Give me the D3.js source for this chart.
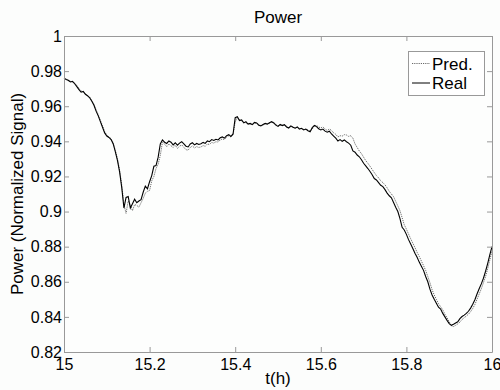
<!DOCTYPE html>
<html>
<head>
<meta charset="utf-8">
<script src="https://cdn.jsdelivr.net/npm/d3@7"></script>
<style>
  body { margin: 0; background: #fcfdfc; }
  svg { display: block; }
</style>
</head>
<body>
<div id="container"></div>
<script>
/* DATA */
// sampled every 0.005 h from 15 h to 16 h
const startHour = 15, stepHour = 0.005;

const real = [
  0.9760, 0.9752, 0.9748, 0.9738, 0.9742, 0.9728, 0.9712, 0.9695, 0.9680, 0.9684,
  0.9668, 0.9660, 0.9648, 0.9628, 0.9605, 0.9572, 0.9545, 0.9512, 0.9480, 0.9448,
  0.9430, 0.9422, 0.9410, 0.9385, 0.9340, 0.9290, 0.9225, 0.9135, 0.9020, 0.9080,
  0.9085, 0.9020, 0.9045, 0.9070, 0.9050, 0.9060, 0.9068, 0.9110, 0.9145, 0.9130,
  0.9170, 0.9205, 0.9258, 0.9262, 0.9310, 0.9385, 0.9408, 0.9395, 0.9388, 0.9402,
  0.9395, 0.9380, 0.9392, 0.9378, 0.9390, 0.9398, 0.9385, 0.9372, 0.9368, 0.9385,
  0.9392, 0.9380, 0.9388, 0.9382, 0.9386, 0.9394, 0.9388, 0.9402, 0.9398, 0.9410,
  0.9405, 0.9412, 0.9408, 0.9420, 0.9425, 0.9418, 0.9432, 0.9438, 0.9428, 0.9442,
  0.9535, 0.9540, 0.9518, 0.9522, 0.9505, 0.9512, 0.9498, 0.9502, 0.9495, 0.9508,
  0.9505, 0.9492, 0.9488, 0.9496, 0.9502, 0.9498, 0.9506, 0.9512, 0.9505, 0.9492,
  0.9485, 0.9496, 0.9490, 0.9495, 0.9482, 0.9476, 0.9488, 0.9480, 0.9475, 0.9482,
  0.9470, 0.9474, 0.9465, 0.9470, 0.9460, 0.9455, 0.9478, 0.9490, 0.9484, 0.9472,
  0.9465, 0.9470, 0.9458, 0.9452, 0.9458, 0.9442, 0.9430, 0.9418, 0.9402, 0.9410,
  0.9400, 0.9408, 0.9398, 0.9390, 0.9378, 0.9345, 0.9338, 0.9322, 0.9312, 0.9295,
  0.9275, 0.9260, 0.9245, 0.9228, 0.9210, 0.9188, 0.9180, 0.9165, 0.9150, 0.9142,
  0.9125, 0.9105, 0.9090, 0.9078, 0.9052, 0.9025, 0.9000, 0.8960, 0.8910, 0.8895,
  0.8870, 0.8840, 0.8815, 0.8790, 0.8762, 0.8740, 0.8712, 0.8688, 0.8665, 0.8630,
  0.8600, 0.8558, 0.8525, 0.8500, 0.8478, 0.8455, 0.8445, 0.8420, 0.8400, 0.8380,
  0.8362, 0.8352, 0.8358, 0.8365, 0.8372, 0.8390, 0.8402, 0.8410, 0.8420, 0.8432,
  0.8450, 0.8472, 0.8498, 0.8530, 0.8560, 0.8588, 0.8620, 0.8660, 0.8705, 0.8755,
  0.8800
];

const pred = [
  0.9765, 0.9755, 0.9745, 0.9742, 0.9736, 0.9732, 0.9718, 0.9700, 0.9688, 0.9680,
  0.9672, 0.9658, 0.9652, 0.9632, 0.9612, 0.9580, 0.9552, 0.9520, 0.9488, 0.9455,
  0.9435, 0.9425, 0.9415, 0.9392, 0.9348, 0.9300, 0.9235, 0.9150, 0.9040, 0.8990,
  0.9060, 0.9040, 0.9005, 0.9040, 0.9035, 0.9025, 0.9050, 0.9075, 0.9105, 0.9115,
  0.9120, 0.9175, 0.9200, 0.9245, 0.9270, 0.9320, 0.9395, 0.9385, 0.9370, 0.9385,
  0.9375, 0.9365, 0.9378, 0.9360, 0.9372, 0.9380, 0.9366, 0.9352, 0.9350, 0.9365,
  0.9374, 0.9362, 0.9370, 0.9365, 0.9368, 0.9376, 0.9372, 0.9385, 0.9382, 0.9394,
  0.9390, 0.9398, 0.9396, 0.9408, 0.9414, 0.9410, 0.9424, 0.9432, 0.9425, 0.9438,
  0.9510, 0.9536, 0.9522, 0.9516, 0.9508, 0.9506, 0.9500, 0.9498, 0.9498, 0.9502,
  0.9506, 0.9496, 0.9490, 0.9492, 0.9500, 0.9500, 0.9502, 0.9510, 0.9508, 0.9496,
  0.9488, 0.9492, 0.9492, 0.9492, 0.9486, 0.9478, 0.9484, 0.9482, 0.9476, 0.9480,
  0.9474, 0.9472, 0.9468, 0.9468, 0.9464, 0.9458, 0.9470, 0.9488, 0.9490, 0.9482,
  0.9476, 0.9482, 0.9470, 0.9462, 0.9470, 0.9462, 0.9448, 0.9440, 0.9425, 0.9432,
  0.9430, 0.9438, 0.9436, 0.9428, 0.9432, 0.9418, 0.9385, 0.9365, 0.9345, 0.9330,
  0.9310, 0.9290, 0.9275, 0.9258, 0.9240, 0.9222, 0.9205, 0.9192, 0.9175, 0.9165,
  0.9152, 0.9135, 0.9115, 0.9100, 0.9085, 0.9058, 0.9032, 0.9005, 0.8965, 0.8925,
  0.8900, 0.8872, 0.8845, 0.8820, 0.8795, 0.8768, 0.8745, 0.8718, 0.8692, 0.8665,
  0.8630, 0.8595, 0.8555, 0.8525, 0.8500, 0.8475, 0.8458, 0.8440, 0.8415, 0.8395,
  0.8372, 0.8350, 0.8345, 0.8352, 0.8360, 0.8370, 0.8385, 0.8395, 0.8405, 0.8415,
  0.8430, 0.8448, 0.8470, 0.8500, 0.8530, 0.8560, 0.8595, 0.8630, 0.8675, 0.8725,
  0.8775
];

const xTicks = [15, 15.2, 15.4, 15.6, 15.8, 16];
const yTicks = [0.82, 0.84, 0.86, 0.88, 0.9, 0.92, 0.94, 0.96, 0.98, 1];
const legendItems = ["Pred.", "Real"];

/* LAYOUT */
const width = 500, height = 390;
const margin = {top: 36, right: 8, bottom: 38, left: 64};
const axisColor = "#999";
const font = "'Liberation Sans', Arial, sans-serif";

const svg = d3.select("#container")
  .append("svg")
  .attr("width", width)
  .attr("height", height)
  .attr("font-family", font)
  .attr("font-size", 17);

const x = d3.scaleLinear()
  .domain([15, 16])
  .range([margin.left, width - margin.right]);

const y = d3.scaleLinear()
  .domain([0.82, 1])
  .range([height - margin.bottom, margin.top]);

const hourAt = i => startHour + i * stepHour;

// plot background
svg.append("rect")
  .attr("x", x(15)).attr("y", y(1))
  .attr("width", x(16) - x(15)).attr("height", y(0.82) - y(1))
  .attr("fill", "#fdfefd");

// lines
const line = d3.line()
  .x((d, i) => x(hourAt(i)))
  .y(d => y(d));

svg.append("path")
  .datum(pred)
  .attr("fill", "none")
  .attr("stroke", "#6a6a6a")
  .attr("stroke-width", 1)
  .attr("stroke-dasharray", "1.2 1")
  .attr("d", line);

svg.append("path")
  .datum(real)
  .attr("fill", "none")
  .attr("stroke", "#000")
  .attr("stroke-width", 1.1)
  .attr("d", line);

// axes (ticks inside, box on all sides)
const styleAxis = g => {
  g.selectAll(".domain").attr("stroke", axisColor);
  g.selectAll(".tick line").attr("stroke", axisColor);
  g.selectAll(".tick text").attr("fill", "#000").attr("font-size", 16).attr("font-family", font);
};

svg.append("g")
  .attr("transform", `translate(0,${y(0.82)})`)
  .call(d3.axisBottom(x).tickValues(xTicks).tickFormat(d3.format("")).tickSizeInner(-5).tickSizeOuter(0).tickPadding(7))
  .call(styleAxis);

svg.append("g")
  .attr("transform", `translate(0,${y(1)})`)
  .call(d3.axisTop(x).tickValues(xTicks).tickFormat("").tickSizeInner(-5).tickSizeOuter(0))
  .call(styleAxis);

svg.append("g")
  .attr("transform", `translate(${x(15)},0)`)
  .call(d3.axisLeft(y).tickValues(yTicks).tickFormat(d3.format("")).tickSizeInner(-5).tickSizeOuter(0).tickPadding(2))
  .call(styleAxis);

svg.append("g")
  .attr("transform", `translate(${x(16)},0)`)
  .call(d3.axisRight(y).tickValues(yTicks).tickFormat("").tickSizeInner(-5).tickSizeOuter(0))
  .call(styleAxis);

// titles
svg.append("text")
  .attr("x", (x(15) + x(16)) / 2)
  .attr("y", 22.5)
  .attr("text-anchor", "middle")
  .text("Power");

svg.append("text")
  .attr("x", (x(15) + x(16)) / 2)
  .attr("y", 384)
  .attr("text-anchor", "middle")
  .text("t(h)");

svg.append("text")
  .attr("transform", `translate(23,${(y(0.82) + y(1)) / 2}) rotate(-90)`)
  .attr("text-anchor", "middle")
  .text("Power (Normalized Signal)");

// legend
const legend = svg.append("g").attr("transform", "translate(408,51)");

legend.append("rect")
  .attr("x", 0.5).attr("y", 0.5)
  .attr("width", 76).attr("height", 44)
  .attr("fill", "#fff")
  .attr("stroke", axisColor);

legend.selectAll("g.item")
  .data(legendItems)
  .join("g")
  .attr("class", "item")
  .attr("transform", (d, i) => `translate(0,${12.5 + i * 19.5})`)
  .each(function(d, i) {
    const g = d3.select(this);
    g.append("line")
      .attr("x1", 4).attr("x2", 22)
      .attr("y1", 0).attr("y2", 0)
      .attr("stroke", i === 0 ? "#6a6a6a" : "#000")
      .attr("stroke-width", 1)
      .attr("stroke-dasharray", i === 0 ? "1.2 1" : null);
    g.append("text")
      .attr("x", 24)
      .attr("dy", "0.36em")
      .text(d);
  });
</script>
</body>
</html>
